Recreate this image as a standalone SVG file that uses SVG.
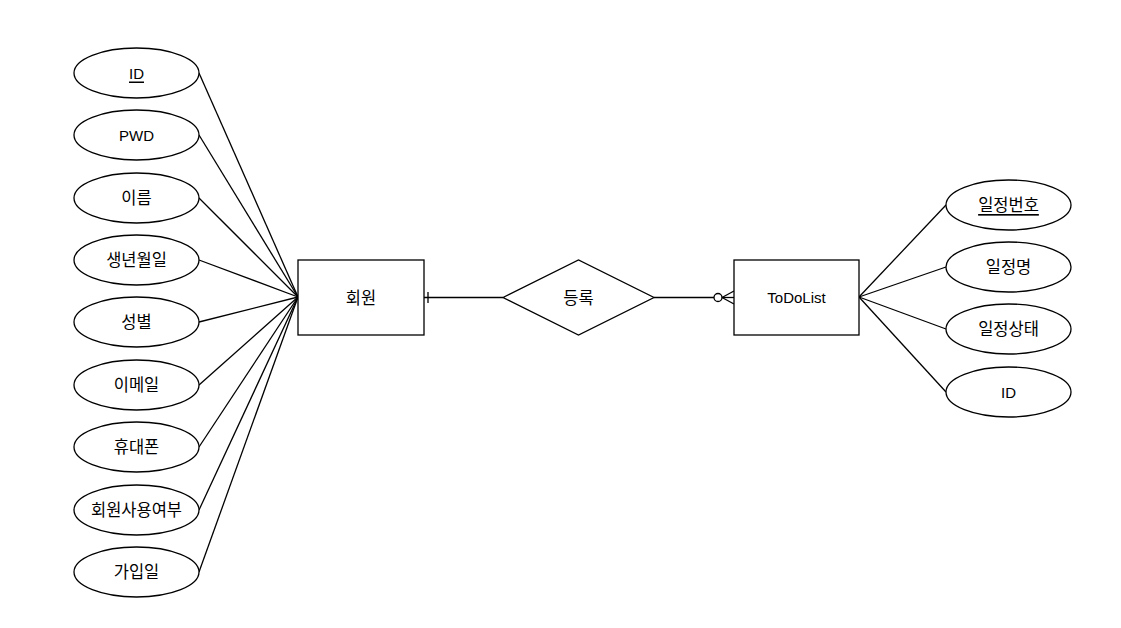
<svg xmlns="http://www.w3.org/2000/svg" width="1121" height="628" viewBox="0 0 1121 628">
<style>
.s{fill:#fff;stroke:#000;stroke-width:1.3}
.l{fill:none;stroke:#000;stroke-width:1.3}
text{font-family:"Liberation Sans","Noto Sans CJK KR",sans-serif;font-size:15px;fill:#000;text-anchor:middle;dominant-baseline:central}
.k{font-size:16.5px}
.u{text-decoration:underline}
</style>
<rect width="1121" height="628" fill="#fff"/>
<g id="connectors">
<line class="l" x1="199" y1="73" x2="298" y2="297"/>
<line class="l" x1="199" y1="135" x2="298" y2="297"/>
<line class="l" x1="199" y1="198" x2="298" y2="297"/>
<line class="l" x1="199" y1="260" x2="298" y2="297"/>
<line class="l" x1="199" y1="322" x2="298" y2="297"/>
<line class="l" x1="199" y1="385" x2="298" y2="297"/>
<line class="l" x1="199" y1="447" x2="298" y2="297"/>
<line class="l" x1="199" y1="510" x2="298" y2="297"/>
<line class="l" x1="199" y1="572" x2="298" y2="297"/>
<line class="l" x1="859" y1="297" x2="946" y2="205"/>
<line class="l" x1="859" y1="297" x2="946" y2="267"/>
<line class="l" x1="859" y1="297" x2="946" y2="329"/>
<line class="l" x1="859" y1="297" x2="946" y2="392"/>
<line class="l" x1="424" y1="297.5" x2="503" y2="297.5"/>
<line class="l" x1="428" y1="292" x2="428" y2="303"/>
<line class="l" x1="654" y1="297.5" x2="714" y2="297.5"/>
<circle class="s" cx="718" cy="297.5" r="4"/>
<line class="l" x1="722" y1="297.5" x2="734" y2="297.5"/>
<line class="l" x1="722" y1="297.5" x2="734" y2="291"/>
<line class="l" x1="722" y1="297.5" x2="734" y2="304"/>
</g>
<g id="member"><rect class="s" x="298" y="260" width="126" height="75"/><text class="k" x="361" y="297.5">회원</text></g>
<g id="register"><polygon class="s" points="503,297.5 578.5,260 654,297.5 578.5,335"/><text class="k" x="578.5" y="297.5">등록</text></g>
<g id="todolist"><rect class="s" x="734" y="260" width="125" height="75"/><text x="796.5" y="297.5">ToDoList</text></g>
<g id="a-id"><ellipse class="s" cx="136.5" cy="73" rx="62.5" ry="25"/><text class="u" x="136.5" y="73">ID</text></g>
<g id="a-pwd"><ellipse class="s" cx="136.5" cy="135" rx="62.5" ry="25"/><text x="136.5" y="135">PWD</text></g>
<g id="a-name"><ellipse class="s" cx="136.5" cy="198" rx="62.5" ry="25"/><text class="k" x="136.5" y="198">이름</text></g>
<g id="a-birth"><ellipse class="s" cx="136.5" cy="260" rx="62.5" ry="25"/><text class="k" x="136.5" y="260">생년월일</text></g>
<g id="a-gender"><ellipse class="s" cx="136.5" cy="322" rx="62.5" ry="25"/><text class="k" x="136.5" y="322">성별</text></g>
<g id="a-email"><ellipse class="s" cx="136.5" cy="385" rx="62.5" ry="25"/><text class="k" x="136.5" y="385">이메일</text></g>
<g id="a-phone"><ellipse class="s" cx="136.5" cy="447" rx="62.5" ry="25"/><text class="k" x="136.5" y="447">휴대폰</text></g>
<g id="a-use"><ellipse class="s" cx="136.5" cy="510" rx="62.5" ry="25"/><text class="k" x="136.5" y="510">회원사용여부</text></g>
<g id="a-join"><ellipse class="s" cx="136.5" cy="572" rx="62.5" ry="25"/><text class="k" x="136.5" y="572">가입일</text></g>
<g id="t-no"><ellipse class="s" cx="1008.5" cy="205" rx="62.5" ry="25"/><text class="k u" x="1008.5" y="205">일정번호</text></g>
<g id="t-name"><ellipse class="s" cx="1008.5" cy="267" rx="62.5" ry="25"/><text class="k" x="1008.5" y="267">일정명</text></g>
<g id="t-state"><ellipse class="s" cx="1008.5" cy="329" rx="62.5" ry="25"/><text class="k" x="1008.5" y="329">일정상태</text></g>
<g id="t-id"><ellipse class="s" cx="1008.5" cy="392" rx="62.5" ry="25"/><text x="1008.5" y="392">ID</text></g>
</svg>
